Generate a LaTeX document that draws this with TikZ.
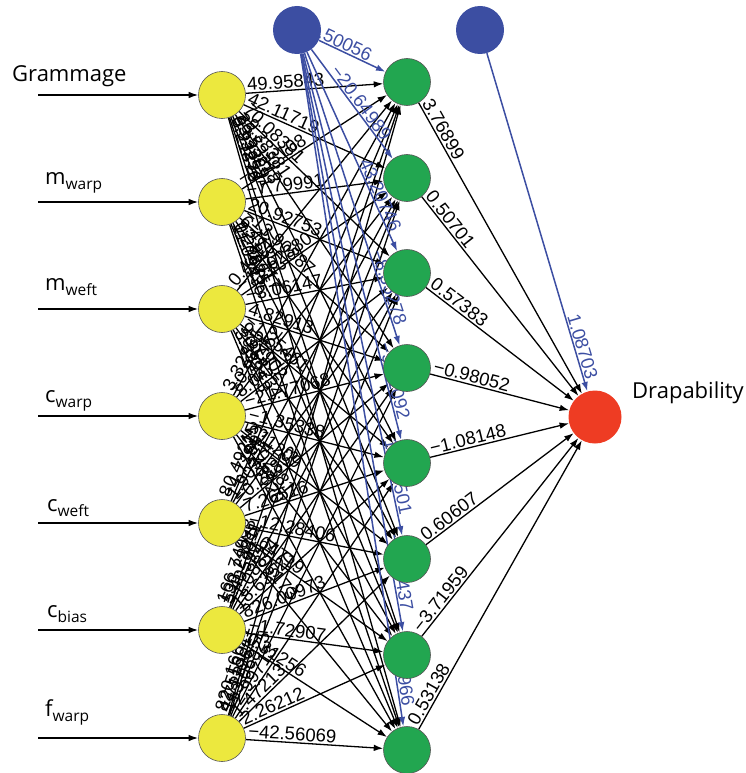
\documentclass[tikz,border=0pt]{standalone}
\usepackage{fontspec}
\usetikzlibrary{arrows.meta,calc}
\newfontfamily\nnarial{Liberation Sans}
\newfontfamily\nnseg{Open Sans}
\definecolor{nnyellow}{RGB}{236,232,62}
\definecolor{nngreen}{RGB}{34,166,80}
\definecolor{nnred}{RGB}{238,60,35}
\definecolor{nnblue}{RGB}{60,78,162}
\definecolor{nnrim}{RGB}{85,85,85}
\newcommand\nnsub[1]{\raisebox{-5pt}{\fontsize{15.5}{15.5}\selectfont #1}}
\pgfdeclarelayer{edges}
\pgfsetlayers{edges,main}
\begin{document}
\begin{tikzpicture}[x=1pt,y=-1pt,
  inp/.style={circle, fill=nnyellow, draw=nnrim, line width=0.6pt, minimum size=47pt, inner sep=0pt},
  hid/.style={circle, fill=nngreen, draw=nnrim, line width=0.6pt, minimum size=47pt, inner sep=0pt},
  outn/.style={circle, fill=nnred, minimum size=53pt, inner sep=0pt},
  biasn/.style={circle, fill=nnblue, minimum size=48pt, inner sep=0pt},
  syn/.style={-{Latex[length=9.5pt,width=6.5pt]}, line width=1.3pt, black},
  bsyn/.style={-{Latex[length=9.5pt,width=6.5pt]}, line width=1.5pt, nnblue},
  wlab/.style={pos=0, sloped, anchor=south west, inner sep=1.5pt, font=\nnarial\fontsize{18.5}{18.5}\selectfont},
  blab/.style={pos=1, sloped, anchor=south east, inner sep=1.5pt, text=nnblue, font=\nnarial\fontsize{18.5}{18.5}\selectfont},
  inlab/.style={anchor=base west, inner sep=0pt, font=\nnseg\fontsize{22}{22}\selectfont}]
\useasboundingbox (0,0) rectangle (746,773);
% input nodes
\node[inp] (i1) at (222,95) {};
\node[inp] (i2) at (222,202) {};
\node[inp] (i3) at (222,309) {};
\node[inp] (i4) at (222,416) {};
\node[inp] (i5) at (222,523) {};
\node[inp] (i6) at (222,630) {};
\node[inp] (i7) at (222,738) {};
% hidden nodes
\foreach \j/\yy in {1/82,2/178,3/273,4/368,5/463,6/559,7/655,8/750}
  \node[hid] (h\j) at (407,\yy) {};
% output and bias
\node[outn] (o) at (595,417) {};
\node[biasn] (b1) at (297,30) {};
\node[biasn] (b2) at (480,30) {};
% entry points
\coordinate (s1) at (38,95);
\coordinate (s2) at (38,202);
\coordinate (s3) at (38,309);
\coordinate (s4) at (38,416);
\coordinate (s5) at (38,523);
\coordinate (s6) at (38,630);
\coordinate (s7) at (38,738);
% labels
\node[inlab] (lg) at (12,82) {Grammage};
\node[inlab] (l2) at (45,184) {m\nnsub{warp}};
\node[inlab] (l3) at (45,290) {m\nnsub{weft}};
\node[inlab] (l4) at (45,402) {c\nnsub{warp}};
\node[inlab] (l5) at (47,511) {c\nnsub{weft}};
\node[inlab] (l6) at (47,617) {c\nnsub{bias}};
\node[inlab] (l7) at (45,716) {f\nnsub{warp}};
\node[inlab] (lo) at (632,398) {Drapability};
\begin{pgfonlayer}{edges}
\foreach \k in {1,...,7} \draw[syn] (s\k) -- (i\k);
\foreach \j/\w in {1/49.95843,2/42.11719,3/70.08381,4/−9.38381,5/26.53218,6/−3.33891,7/0.93254,8/5.21876}
  \draw[syn] (i1) -- (h\j) node[wlab] {\w};
\foreach \j/\w in {1/−0.33108,2/−7.79991,3/20.92753,4/−13.90887,5/6.41352,6/−2.84417,7/0.27685,8/11.09435}
  \draw[syn] (i2) -- (h\j) node[wlab] {\w};
\foreach \j/\w in {1/0.44127,2/−15.62380,3/−3.06147,4/4.82913,5/−1.25461,6/9.37902,7/−0.58234,8/3.33253}
  \draw[syn] (i3) -- (h\j) node[wlab] {\w};
\foreach \j/\w in {1/3.32865,2/−0.91452,3/8.04713,4/−21.77068,5/−1.35338,6/2.11209,7/14.02381,8/−6.48820}
  \draw[syn] (i4) -- (h\j) node[wlab] {\w};
\foreach \j/\w in {1/80.49215,2/−4.71693,3/1.90374,4/−0.28833,5/7.26516,6/−12.28406,7/0.64719,8/−2.05173}
  \draw[syn] (i5) -- (h\j) node[wlab] {\w};
\foreach \j/\w in {1/166.74998,2/−33.28811,3/5.40592,4/−1.08844,5/18.63520,6/826.00973,7/−1.72907,8/0.31256}
  \draw[syn] (i6) -- (h\j) node[wlab] {\w};
\foreach \j/\w in {1/820.16621,2/−2.55301,3/4.71196,4/−13.06825,5/−2.99713,6/1.47213,7/2.26212,8/−42.56069}
  \draw[syn] (i7) -- (h\j) node[wlab] {\w};
\foreach \j/\w in {1/3.76899,2/0.50701,3/0.57383,4/−0.98052,5/−1.08148,6/0.60607,7/−3.71959,8/0.53138}
  \draw[syn] (h\j) -- (o) node[wlab] {\w};
\foreach \j/\w in {1/−1.50056,2/−20.64989,3/43.20746,4/−8.35278,5/−5.71092,6/12.08501,7/−3.49437,8/0.93966}
  {\draw[bsyn] (b1) -- (h\j);
   \path (b1) -- ($(h\j)!42pt!(b1)$) node[blab] {\w};}
\draw[bsyn] (b2) -- (o);
\path (b2) -- ($(o)!36pt!(b2)$) node[blab] {1.08703};
\end{pgfonlayer}
\end{tikzpicture}
\end{document}
